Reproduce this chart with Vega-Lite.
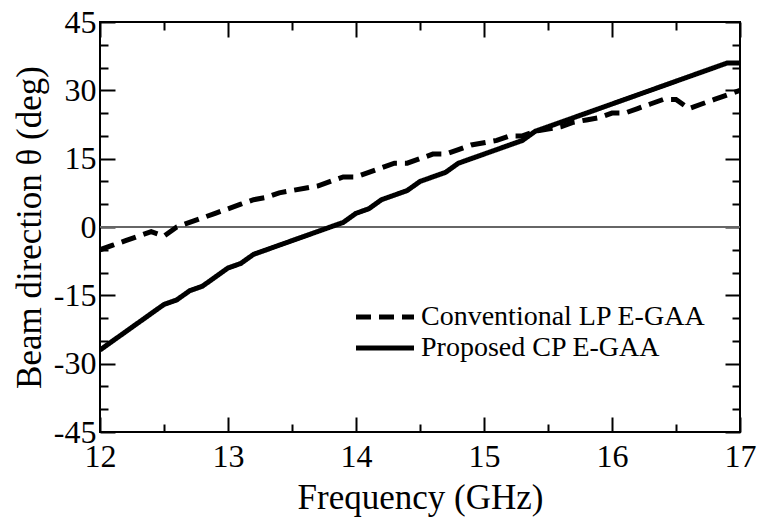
{
  "$schema": "https://vega.github.io/schema/vega-lite/v6.json",
  "width": 640,
  "height": 410,
  "autosize": "none",
  "padding": {"left": 100, "top": 22, "right": 20, "bottom": 90},
  "background": "white",
  "config": {
    "font": "Liberation Serif",
    "view": {"stroke": "black", "strokeWidth": 2},
    "axis": {"domain": false, "grid": false, "tickColor": "black", "tickWidth": 2, "labelColor": "black", "titleColor": "black", "labelFont": "Liberation Serif", "titleFont": "Liberation Serif", "labelFontSize": 32, "titleFontSize": 35, "titleFontWeight": "normal", "labelOverlap": false, "labelFlush": false, "labelBound": false},
    "legend": {"labelFont": "Liberation Serif"}
  },
  "datasets": {
    "beam": [
      {"f": 12.0, "deg": -5, "s": "Conventional LP E-GAA"},
      {"f": 12.1, "deg": -4, "s": "Conventional LP E-GAA"},
      {"f": 12.2, "deg": -3, "s": "Conventional LP E-GAA"},
      {"f": 12.3, "deg": -2, "s": "Conventional LP E-GAA"},
      {"f": 12.4, "deg": -1, "s": "Conventional LP E-GAA"},
      {"f": 12.5, "deg": -2, "s": "Conventional LP E-GAA"},
      {"f": 12.6, "deg": 0, "s": "Conventional LP E-GAA"},
      {"f": 12.7, "deg": 1, "s": "Conventional LP E-GAA"},
      {"f": 12.8, "deg": 2, "s": "Conventional LP E-GAA"},
      {"f": 12.9, "deg": 3, "s": "Conventional LP E-GAA"},
      {"f": 13.0, "deg": 4, "s": "Conventional LP E-GAA"},
      {"f": 13.1, "deg": 5, "s": "Conventional LP E-GAA"},
      {"f": 13.2, "deg": 6, "s": "Conventional LP E-GAA"},
      {"f": 13.3, "deg": 6.5, "s": "Conventional LP E-GAA"},
      {"f": 13.4, "deg": 7.5, "s": "Conventional LP E-GAA"},
      {"f": 13.5, "deg": 8, "s": "Conventional LP E-GAA"},
      {"f": 13.6, "deg": 8.5, "s": "Conventional LP E-GAA"},
      {"f": 13.7, "deg": 9, "s": "Conventional LP E-GAA"},
      {"f": 13.8, "deg": 10, "s": "Conventional LP E-GAA"},
      {"f": 13.9, "deg": 11, "s": "Conventional LP E-GAA"},
      {"f": 14.0, "deg": 11, "s": "Conventional LP E-GAA"},
      {"f": 14.1, "deg": 12, "s": "Conventional LP E-GAA"},
      {"f": 14.2, "deg": 13, "s": "Conventional LP E-GAA"},
      {"f": 14.3, "deg": 14, "s": "Conventional LP E-GAA"},
      {"f": 14.4, "deg": 14, "s": "Conventional LP E-GAA"},
      {"f": 14.5, "deg": 15, "s": "Conventional LP E-GAA"},
      {"f": 14.6, "deg": 16, "s": "Conventional LP E-GAA"},
      {"f": 14.7, "deg": 16, "s": "Conventional LP E-GAA"},
      {"f": 14.8, "deg": 17, "s": "Conventional LP E-GAA"},
      {"f": 14.9, "deg": 18, "s": "Conventional LP E-GAA"},
      {"f": 15.0, "deg": 18.5, "s": "Conventional LP E-GAA"},
      {"f": 15.1, "deg": 19, "s": "Conventional LP E-GAA"},
      {"f": 15.2, "deg": 20, "s": "Conventional LP E-GAA"},
      {"f": 15.3, "deg": 20, "s": "Conventional LP E-GAA"},
      {"f": 15.4, "deg": 21, "s": "Conventional LP E-GAA"},
      {"f": 15.5, "deg": 21.5, "s": "Conventional LP E-GAA"},
      {"f": 15.6, "deg": 22, "s": "Conventional LP E-GAA"},
      {"f": 15.7, "deg": 23, "s": "Conventional LP E-GAA"},
      {"f": 15.8, "deg": 23.5, "s": "Conventional LP E-GAA"},
      {"f": 15.9, "deg": 24, "s": "Conventional LP E-GAA"},
      {"f": 16.0, "deg": 25, "s": "Conventional LP E-GAA"},
      {"f": 16.1, "deg": 25, "s": "Conventional LP E-GAA"},
      {"f": 16.2, "deg": 26, "s": "Conventional LP E-GAA"},
      {"f": 16.3, "deg": 27, "s": "Conventional LP E-GAA"},
      {"f": 16.4, "deg": 28, "s": "Conventional LP E-GAA"},
      {"f": 16.5, "deg": 28, "s": "Conventional LP E-GAA"},
      {"f": 16.6, "deg": 26, "s": "Conventional LP E-GAA"},
      {"f": 16.7, "deg": 27, "s": "Conventional LP E-GAA"},
      {"f": 16.8, "deg": 28, "s": "Conventional LP E-GAA"},
      {"f": 16.9, "deg": 29, "s": "Conventional LP E-GAA"},
      {"f": 17.0, "deg": 30, "s": "Conventional LP E-GAA"},
      {"f": 12.0, "deg": -27, "s": "Proposed CP E-GAA"},
      {"f": 12.1, "deg": -25, "s": "Proposed CP E-GAA"},
      {"f": 12.2, "deg": -23, "s": "Proposed CP E-GAA"},
      {"f": 12.3, "deg": -21, "s": "Proposed CP E-GAA"},
      {"f": 12.4, "deg": -19, "s": "Proposed CP E-GAA"},
      {"f": 12.5, "deg": -17, "s": "Proposed CP E-GAA"},
      {"f": 12.6, "deg": -16, "s": "Proposed CP E-GAA"},
      {"f": 12.7, "deg": -14, "s": "Proposed CP E-GAA"},
      {"f": 12.8, "deg": -13, "s": "Proposed CP E-GAA"},
      {"f": 12.9, "deg": -11, "s": "Proposed CP E-GAA"},
      {"f": 13.0, "deg": -9, "s": "Proposed CP E-GAA"},
      {"f": 13.1, "deg": -8, "s": "Proposed CP E-GAA"},
      {"f": 13.2, "deg": -6, "s": "Proposed CP E-GAA"},
      {"f": 13.3, "deg": -5, "s": "Proposed CP E-GAA"},
      {"f": 13.4, "deg": -4, "s": "Proposed CP E-GAA"},
      {"f": 13.5, "deg": -3, "s": "Proposed CP E-GAA"},
      {"f": 13.6, "deg": -2, "s": "Proposed CP E-GAA"},
      {"f": 13.7, "deg": -1, "s": "Proposed CP E-GAA"},
      {"f": 13.8, "deg": 0, "s": "Proposed CP E-GAA"},
      {"f": 13.9, "deg": 1, "s": "Proposed CP E-GAA"},
      {"f": 14.0, "deg": 3, "s": "Proposed CP E-GAA"},
      {"f": 14.1, "deg": 4, "s": "Proposed CP E-GAA"},
      {"f": 14.2, "deg": 6, "s": "Proposed CP E-GAA"},
      {"f": 14.3, "deg": 7, "s": "Proposed CP E-GAA"},
      {"f": 14.4, "deg": 8, "s": "Proposed CP E-GAA"},
      {"f": 14.5, "deg": 10, "s": "Proposed CP E-GAA"},
      {"f": 14.6, "deg": 11, "s": "Proposed CP E-GAA"},
      {"f": 14.7, "deg": 12, "s": "Proposed CP E-GAA"},
      {"f": 14.8, "deg": 14, "s": "Proposed CP E-GAA"},
      {"f": 14.9, "deg": 15, "s": "Proposed CP E-GAA"},
      {"f": 15.0, "deg": 16, "s": "Proposed CP E-GAA"},
      {"f": 15.1, "deg": 17, "s": "Proposed CP E-GAA"},
      {"f": 15.2, "deg": 18, "s": "Proposed CP E-GAA"},
      {"f": 15.3, "deg": 19, "s": "Proposed CP E-GAA"},
      {"f": 15.4, "deg": 21, "s": "Proposed CP E-GAA"},
      {"f": 15.5, "deg": 22, "s": "Proposed CP E-GAA"},
      {"f": 15.6, "deg": 23, "s": "Proposed CP E-GAA"},
      {"f": 15.7, "deg": 24, "s": "Proposed CP E-GAA"},
      {"f": 15.8, "deg": 25, "s": "Proposed CP E-GAA"},
      {"f": 15.9, "deg": 26, "s": "Proposed CP E-GAA"},
      {"f": 16.0, "deg": 27, "s": "Proposed CP E-GAA"},
      {"f": 16.1, "deg": 28, "s": "Proposed CP E-GAA"},
      {"f": 16.2, "deg": 29, "s": "Proposed CP E-GAA"},
      {"f": 16.3, "deg": 30, "s": "Proposed CP E-GAA"},
      {"f": 16.4, "deg": 31, "s": "Proposed CP E-GAA"},
      {"f": 16.5, "deg": 32, "s": "Proposed CP E-GAA"},
      {"f": 16.6, "deg": 33, "s": "Proposed CP E-GAA"},
      {"f": 16.7, "deg": 34, "s": "Proposed CP E-GAA"},
      {"f": 16.8, "deg": 35, "s": "Proposed CP E-GAA"},
      {"f": 16.9, "deg": 36, "s": "Proposed CP E-GAA"},
      {"f": 17.0, "deg": 36, "s": "Proposed CP E-GAA"}
    ]
  },
  "data": {"name": "beam"},
  "resolve": {"axis": {"x": "independent", "y": "independent"}},
  "layer": [
    {
      "mark": {"type": "rule", "color": "#666666", "strokeWidth": 1},
      "encoding": {"y": {"datum": 0, "type": "quantitative", "axis": null}}
    },
    {
      "mark": {"type": "line", "strokeWidth": 5, "clip": true},
      "encoding": {
        "x": {"field": "f", "type": "quantitative", "scale": {"domain": [12, 17], "nice": false, "zero": false},
              "axis": {"orient": "bottom", "values": [12, 13, 14, 15, 16, 17], "tickSize": -15, "labelPadding": 24, "title": "Frequency (GHz)", "titlePadding": 8, "labelExpr": "'' + datum.value"}},
        "y": {"field": "deg", "type": "quantitative", "scale": {"domain": [-45, 45], "nice": false, "zero": false},
              "axis": {"orient": "left", "values": [-45, -30, -15, 0, 15, 30, 45], "tickSize": -15, "labelPadding": 19, "title": "Beam direction θ (deg)", "titlePadding": 6, "labelExpr": "'' + datum.value"}},
        "color": {"field": "s", "type": "nominal", "scale": {"domain": ["Conventional LP E-GAA", "Proposed CP E-GAA"], "range": ["black", "black"]},
                  "legend": {"orient": "none", "legendX": 268, "legendY": 278, "title": null, "symbolType": "M-2,0H2", "symbolSize": 841, "symbolStrokeWidth": 5, "symbolFillColor": "transparent", "labelFontSize": 28, "labelFont": "Liberation Serif", "labelColor": "black", "labelLimit": 0, "rowPadding": -3, "labelOffset": 19}},
        "strokeDash": {"field": "s", "type": "nominal", "scale": {"domain": ["Conventional LP E-GAA", "Proposed CP E-GAA"], "range": [[15, 8], [1, 0]]}, "legend": null}
      }
    },
    {
      "mark": {"type": "line", "opacity": 0},
      "encoding": {
        "x": {"field": "f", "type": "quantitative", "axis": {"orient": "bottom", "values": [12.5, 13.5, 14.5, 15.5, 16.5], "tickSize": -8, "labels": false, "title": null}},
        "y": {"field": "deg", "type": "quantitative", "axis": {"orient": "left", "values": [-40, -35, -25, -20, -10, -5, 5, 10, 20, 25, 35, 40], "tickSize": -8, "labels": false, "title": null}},
        "detail": {"field": "s"}
      }
    },
    {
      "mark": {"type": "line", "opacity": 0},
      "encoding": {
        "x": {"field": "f", "type": "quantitative", "axis": {"orient": "top", "values": [12, 13, 14, 15, 16, 17], "tickSize": -15, "labels": false, "title": null}},
        "y": {"field": "deg", "type": "quantitative", "axis": {"orient": "right", "values": [-45, -30, -15, 0, 15, 30, 45], "tickSize": -15, "labels": false, "title": null}},
        "detail": {"field": "s"}
      }
    },
    {
      "mark": {"type": "line", "opacity": 0},
      "encoding": {
        "x": {"field": "f", "type": "quantitative", "axis": {"orient": "top", "values": [12.5, 13.5, 14.5, 15.5, 16.5], "tickSize": -8, "labels": false, "title": null}},
        "y": {"field": "deg", "type": "quantitative", "axis": {"orient": "right", "values": [-40, -35, -25, -20, -10, -5, 5, 10, 20, 25, 35, 40], "tickSize": -8, "labels": false, "title": null}},
        "detail": {"field": "s"}
      }
    }
  ]
}
